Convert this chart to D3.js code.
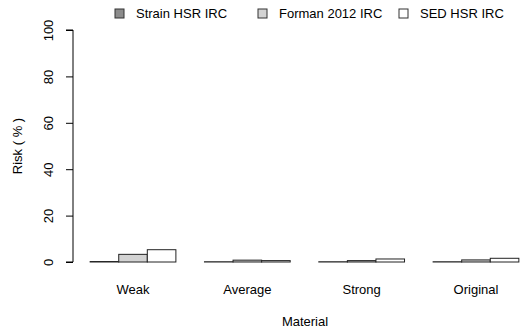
<!DOCTYPE html>
<html>
<head>
<meta charset="utf-8">
<script src="https://cdn.jsdelivr.net/npm/d3@7"></script>
<style>
  body { margin: 0; background: #fff; }
  text { font-family: "Liberation Sans", Arial, sans-serif; fill: #000; }
</style>
</head>
<body>
<svg id="chart" width="521" height="334"></svg>
<script>
const materials = ['Weak', 'Average', 'Strong', 'Original'];
const seriesNames = ['Strain HSR IRC', 'Forman 2012 IRC', 'SED HSR IRC'];
const strainHsr = [0.2, 0.1, 0.1, 0.1];
const forman2012 = [3.3, 0.8, 0.6, 0.9];
const sedHsr = [5.3, 0.6, 1.3, 1.6];
const yTicks = [0, 20, 40, 60, 80, 100];
const fills = ['#8c8c8c', '#d3d3d3', '#ffffff'];

const series = [strainHsr, forman2012, sedHsr];

const svg = d3.select('#chart');

// R style barplot: bar width 1, one empty unit before each group
const x = d3.scaleLinear().domain([0.4, 16.6]).range([73, 536]);
const y = d3.scaleLinear().domain([0, 100]).range([262, 30]);

const barStart = (g, s) => 1 + g * 4 + s;

// bars
series.forEach((vals, s) => {
  svg.append('g')
    .selectAll('rect')
    .data(vals)
    .enter().append('rect')
    .attr('x', (d, g) => x(barStart(g, s)))
    .attr('y', d => y(d))
    .attr('width', x(2) - x(1))
    .attr('height', d => y(0) - y(d))
    .attr('fill', fills[s])
    .attr('stroke', '#222')
    .attr('stroke-width', 1);
});

// y axis
const yAxis = svg.append('g')
  .attr('transform', 'translate(73,0)')
  .call(d3.axisLeft(y).tickValues(yTicks).tickSize(7).tickPadding(0));
yAxis.select('.domain').attr('d', 'M-7,' + y(0) + 'H0V' + y(100) + 'H-7')
  .attr('stroke', '#000');
yAxis.selectAll('.tick line').attr('stroke', '#000');
yAxis.selectAll('.tick text')
  .attr('transform', 'rotate(-90)')
  .attr('x', 0)
  .attr('y', -25)
  .attr('dy', '0.35em')
  .style('text-anchor', 'middle')
  .style('font-size', '13px')
  .style('font-family', '"Liberation Sans", Arial, sans-serif')
  .attr('fill', '#000');

// category labels
svg.append('g')
  .selectAll('text')
  .data(materials)
  .enter().append('text')
  .attr('x', (d, g) => x(barStart(g, 1) + 0.5))
  .attr('y', 294)
  .attr('text-anchor', 'middle')
  .style('font-size', '13px')
  .text(d => d);

// axis titles
svg.append('text')
  .attr('x', 305)
  .attr('y', 326)
  .attr('text-anchor', 'middle')
  .style('font-size', '13px')
  .text('Material');

svg.append('text')
  .attr('transform', 'translate(22,146) rotate(-90)')
  .attr('text-anchor', 'middle')
  .style('font-size', '13px')
  .text('Risk ( % )');

// legend
const legendX = [115, 258, 399];
const legend = svg.append('g');
seriesNames.forEach((name, i) => {
  legend.append('rect')
    .attr('x', legendX[i])
    .attr('y', 9)
    .attr('width', 9)
    .attr('height', 9)
    .attr('fill', fills[i])
    .attr('stroke', '#333');
  legend.append('text')
    .attr('x', legendX[i] + 21)
    .attr('y', 18)
    .style('font-size', '13px')
    .text(name);
});
</script>
</body>
</html>
